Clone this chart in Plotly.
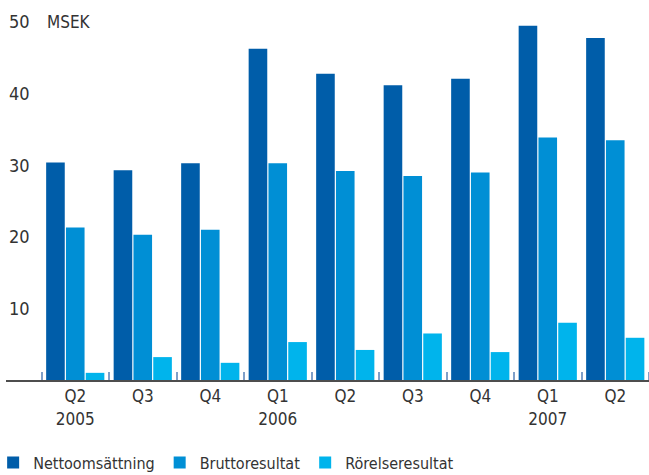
import plotly.graph_objects as go

categories = ["Q2<br>2005", "Q3", "Q4", "Q1<br>2006", "Q2", "Q3", "Q4", "Q1<br>2007", "Q2"]
nettoomsattning = [30.4, 29.3, 30.3, 46.3, 42.8, 41.2, 42.1, 49.5, 47.8]
bruttoresultat = [21.3, 20.3, 21.0, 30.3, 29.2, 28.5, 29.0, 33.9, 33.5]
rorelseresultat = [1.0, 3.2, 2.4, 5.3, 4.2, 6.5, 3.9, 8.0, 5.9]
y_ticks = [10, 20, 30, 40, 50]

x = list(range(len(categories)))
FONT = "DejaVu Sans Condensed, DejaVu Sans"
TXT = "#333333"

fig = go.Figure()
fig.add_trace(go.Bar(x=x, y=nettoomsattning, name="Nettoomsättning", marker_color="#005DA9", marker_line_width=0))
fig.add_trace(go.Bar(x=x, y=bruttoresultat, name="Bruttoresultat", marker_color="#008FD5", marker_line_width=0))
fig.add_trace(go.Bar(x=x, y=rorelseresultat, name="Rörelseresultat", marker_color="#00B4EC", marker_line_width=0))

fig.update_layout(
    width=649, height=475,
    margin=dict(l=6, r=0, t=5, b=95, autoexpand=False),
    paper_bgcolor="white", plot_bgcolor="white",
    barmode="group", bargap=0.12, bargroupgap=0.06,
    font=dict(family=FONT, size=17, color=TXT),
    showlegend=True,
    legend=dict(orientation="h", x=-0.02, xanchor="left", y=-0.22, yanchor="middle",
                font=dict(size=16, color=TXT), bgcolor="rgba(0,0,0,0)"),
    xaxis=dict(range=[-1.026, 8.5], tickvals=x, ticktext=categories, ticks="",
               showline=True, linecolor="#4d4d4d", linewidth=2, showgrid=False, zeroline=False,
               tickfont=dict(size=17, color=TXT),
               minor=dict(ticks="inside", tick0=-0.5, dtick=1, ticklen=8, tickwidth=2,
                          tickcolor="#7f9fc8", showgrid=False)),
    yaxis=dict(range=[0, 52.4], tickvals=y_ticks, ticktext=[str(v) for v in y_ticks],
               ticklabelposition="inside", showgrid=False, zeroline=False, showline=False,
               ticks="", tickfont=dict(size=18, color=TXT)),
    annotations=[dict(text="MSEK", x=0.0607, xref="paper", xanchor="left",
                      y=50, yref="y", yanchor="middle", showarrow=False,
                      font=dict(size=17, color=TXT))],
)

fig.write_html("out.html", config={"displayModeBar": False},
               post_script="document.body.style.margin='0';document.body.style.overflow='hidden';")
